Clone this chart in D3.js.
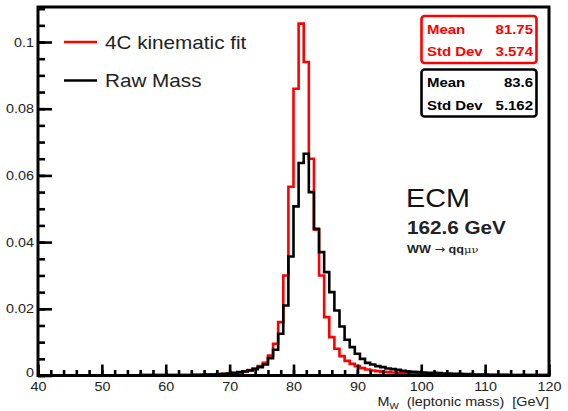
<!DOCTYPE html>
<html>
<head>
<meta charset="utf-8">
<script src="https://cdn.jsdelivr.net/npm/d3@7"></script>
<style>
  body { margin: 0; background: #fff; }
  svg { display: block; font-family: "Liberation Sans", Arial, Helvetica, sans-serif; }
</style>
</head>
<body>
<div id="chart"></div>
<script>
// ----------------------------
// Data
// ----------------------------

// 100 bins of 0.8 GeV from 40 to 120
const binLow = 40;
const binWidth = 0.8;

// 4C kinematic fit (red)
const fitValues = [
  0, 0, 0, 0, 0, 0, 0, 0, 0, 0,
  0, 0, 0, 0, 0, 0, 0, 0, 0, 0,
  0.0001, 0.0001, 0.0001, 0.0001, 0.0001, 0.0001, 0.0001, 0.0001, 0.0001, 0.0001,
  0.0001, 0.0001, 0.0002, 0.0002, 0.0003, 0.0003, 0.0004, 0.0005, 0.0007, 0.0009,
  0.0012, 0.0016, 0.0021, 0.0028, 0.0038, 0.006, 0.0095, 0.016, 0.030, 0.0566,
  0.086, 0.1055, 0.094, 0.065, 0.0437, 0.030, 0.0175, 0.0115, 0.008, 0.0058,
  0.0044, 0.0035, 0.0028, 0.0022, 0.0018, 0.0015, 0.0013, 0.0011, 0.001, 0.0009,
  0.0008, 0.0007, 0.0007, 0.0006, 0.0005, 0.0005, 0.0004, 0.0004, 0.0003, 0.0003,
  0.0003, 0.0002, 0.0002, 0.0002, 0.0002, 0.0001, 0.0001, 0.0001, 0.0001, 0.0001,
  0.0001, 0.0001, 0.0001, 0.0001, 0.0001, 0.0001, 0.0001, 0.0001, 0.0001, 0.0001
];

// Raw mass (black)
const rawValues = [
  0, 0, 0, 0, 0, 0, 0, 0, 0, 0,
  0, 0, 0, 0, 0, 0, 0, 0, 0, 0,
  0.0001, 0.0001, 0.0001, 0.0001, 0.0001, 0.0001, 0.0001, 0.0001, 0.0001, 0.0001,
  0.0002, 0.0002, 0.0002, 0.0003, 0.0003, 0.0004, 0.0005, 0.0006, 0.0008, 0.001,
  0.0012, 0.0015, 0.0019, 0.0025, 0.0033, 0.0052, 0.0077, 0.0125, 0.021, 0.0357,
  0.0507, 0.0637, 0.0665, 0.055, 0.044, 0.037, 0.031, 0.025, 0.0195, 0.0147,
  0.0107, 0.0085, 0.0065, 0.005, 0.0038, 0.0033, 0.0028, 0.0025, 0.0021, 0.0019,
  0.0017, 0.0014, 0.0012, 0.0011, 0.001, 0.0009, 0.0008, 0.0008, 0.0007, 0.0006,
  0.0006, 0.0005, 0.0005, 0.0004, 0.0004, 0.0003, 0.0003, 0.0003, 0.0002, 0.0002,
  0.0002, 0.0002, 0.0001, 0.0001, 0.0001, 0.0001, 0.0001, 0.0001, 0.0001, 0.0001
];

const xMajorTicks = [40, 50, 60, 70, 80, 90, 100, 110, 120];
const xMinorTicks = d3.range(40, 121, 2);
const yMajorTicks = [0, 0.02, 0.04, 0.06, 0.08, 0.1];
const yMinorTicks = d3.range(0, 0.1101, 0.005);

const legendLabels = ["4C kinematic fit", "Raw Mass"];
const seriesColors = ["#ff0000", "#000000"];
const statLabels = ["Mean", "Std Dev"];
const fitStats = ["81.75", "3.574"];
const rawStats = ["83.6", "5.162"];

// ----------------------------
// Layout
// ----------------------------

const width = 568;
const height = 411;
const marginTop = 7;
const marginRight = 19;
const marginBottom = 35.5;
const marginLeft = 38;
const stretch = 1.15; // text in the picture is a bit wider than it is tall

const x = d3.scaleLinear()
    .domain([40, 120])
    .range([marginLeft, width - marginRight]);

const y = d3.scaleLinear()
    .domain([0, 0.1105])
    .range([height - marginBottom, marginTop]);

const svg = d3.create("svg")
    .attr("width", width)
    .attr("height", height)
    .attr("viewBox", [0, 0, width, height]);

// helper for horizontally stretched text
function addText(parent, px, py, str, size, opts = {}) {
    return parent.append("text")
        .attr("transform", `translate(${px},${py}) scale(${stretch},1)`)
        .attr("font-size", size)
        .attr("font-weight", opts.bold ? "bold" : null)
        .attr("fill", opts.color || "#000")
        .attr("text-anchor", opts.anchor || "start")
        .text(str);
}

// ----------------------------
// Histograms
// ----------------------------

function stepPoints(values) {
    const pts = values.map((v, i) => [binLow + i * binWidth, v]);
    pts.push([binLow + values.length * binWidth, values[values.length - 1]]);
    return pts;
}

const line = d3.line()
    .x(d => x(d[0]))
    .y(d => y(d[1]))
    .curve(d3.curveStepAfter);

[fitValues, rawValues].forEach((vals, i) => {
    svg.append("path")
        .attr("d", line(stepPoints(vals)))
        .attr("fill", "none")
        .attr("stroke", seriesColors[i])
        .attr("stroke-width", 2.6)
        .attr("stroke-linejoin", "miter");
});

// ----------------------------
// Axes (ticks point inwards, ROOT style)
// ----------------------------

const yMajor = svg.append("g")
    .attr("transform", `translate(${marginLeft},0)`)
    .call(d3.axisLeft(y).tickValues(yMajorTicks).tickSizeInner(-14).tickSizeOuter(0).tickPadding(4)
        .tickFormat(d => d === 0 ? "0" : String(+d.toFixed(2))));
yMajor.select(".domain").remove();
yMajor.selectAll("line").attr("stroke-width", 2.6);
yMajor.selectAll("text")
    .attr("font-size", 12.5)
    .attr("font-family", null)
    .attr("fill", "#222")
    .attr("x", null)
    .attr("transform", d => `translate(-4,${d === 0 ? -3 : 0}) scale(${stretch},1)`);

const yMinor = svg.append("g")
    .attr("transform", `translate(${marginLeft},0)`)
    .call(d3.axisLeft(y).tickValues(yMinorTicks).tickSizeInner(-7).tickSizeOuter(0).tickFormat(""));
yMinor.select(".domain").remove();
yMinor.selectAll("line").attr("stroke-width", 2.6);

const xMajor = svg.append("g")
    .attr("transform", `translate(0,${height - marginBottom})`)
    .call(d3.axisBottom(x).tickValues(xMajorTicks).tickSizeInner(-11).tickSizeOuter(0).tickPadding(4));
xMajor.select(".domain").remove();
xMajor.selectAll("line").attr("stroke-width", 2.6);
xMajor.selectAll("text")
    .attr("font-size", 12.5)
    .attr("font-family", null)
    .attr("fill", "#222")
    .attr("y", null)
    .attr("dy", null)
    .attr("transform", `translate(0,15) scale(${stretch},1)`);

const xMinor = svg.append("g")
    .attr("transform", `translate(0,${height - marginBottom})`)
    .call(d3.axisBottom(x).tickValues(xMinorTicks).tickSizeInner(-5.5).tickSizeOuter(0).tickFormat(""));
xMinor.select(".domain").remove();
xMinor.selectAll("line").attr("stroke-width", 2.6);

// frame
svg.append("rect")
    .attr("x", marginLeft)
    .attr("y", marginTop)
    .attr("width", width - marginRight - marginLeft)
    .attr("height", height - marginBottom - marginTop)
    .attr("fill", "none")
    .attr("stroke", "#000")
    .attr("stroke-width", 3);

// x axis title
const xTitle = svg.append("text")
    .attr("transform", `translate(${width - marginRight},406) scale(${stretch},1)`)
    .attr("font-size", 12.5)
    .attr("fill", "#222")
    .attr("text-anchor", "end");
xTitle.append("tspan").text("M");
xTitle.append("tspan").attr("font-size", 8.5).attr("dy", 3).text("W");
xTitle.append("tspan").attr("dy", -3).text("\u00a0\u00a0(leptonic mass)\u00a0\u00a0[GeV]");

// ----------------------------
// Legend
// ----------------------------

legendLabels.forEach((label, i) => {
    const ly = 42 + i * 38.5;
    svg.append("line")
        .attr("x1", 64).attr("x2", 97)
        .attr("y1", ly).attr("y2", ly)
        .attr("stroke", seriesColors[i])
        .attr("stroke-width", 2.6);
    addText(svg, 105, ly + 6.5, label, 18, { color: "#222" });
});

// ----------------------------
// Stat boxes
// ----------------------------

[fitStats, rawStats].forEach((stats, i) => {
    const top = 16 + i * 53.5;
    const col = seriesColors[i];
    svg.append("rect")
        .attr("x", 421.5).attr("y", top)
        .attr("width", 115).attr("height", 47)
        .attr("rx", 3)
        .attr("fill", "#fff")
        .attr("stroke", col)
        .attr("stroke-width", 2.6);
    statLabels.forEach((s, j) => {
        const by = top + 17.5 + j * 22.5;
        addText(svg, 427, by, s, 13, { bold: true, color: col });
        addText(svg, 533, by, stats[j], 13, { bold: true, color: col, anchor: "end" });
    });
});

// ----------------------------
// Annotation
// ----------------------------

addText(svg, 406, 206.5, "ECM", 25, { color: "#111" });
addText(svg, 407, 233.5, "162.6 GeV", 18, { bold: true, color: "#222" });
const proc = svg.append("text")
    .attr("transform", `translate(407,253) scale(${stretch},1)`)
    .attr("font-size", 11)
    .attr("fill", "#222");
proc.append("tspan").attr("font-weight", "bold").text("WW ");
proc.append("tspan").attr("font-family", "'DejaVu Sans', sans-serif").attr("font-size", 11).text("\u2192");
proc.append("tspan").attr("font-weight", "bold").text(" qq");
proc.append("tspan").attr("font-family", "'DejaVu Serif', serif").attr("font-size", 10).text("\u03bc\u03bd");

document.getElementById("chart").appendChild(svg.node());
</script>
</body>
</html>
